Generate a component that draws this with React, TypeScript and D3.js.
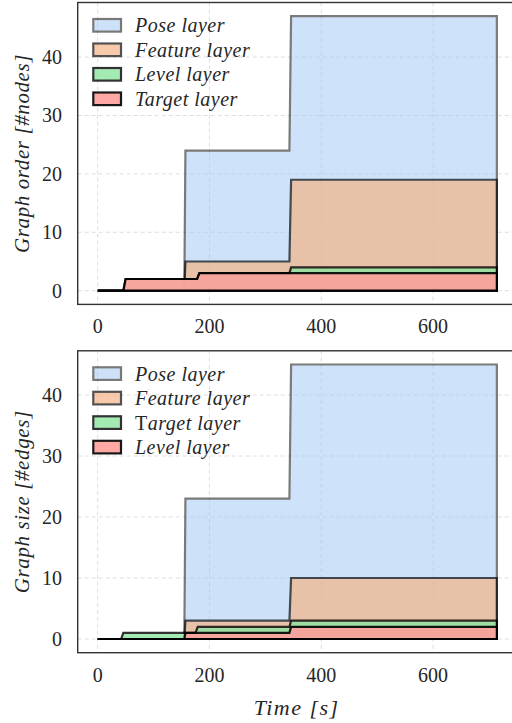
import { useEffect, useRef } from 'react';
import * as d3 from 'd3';

// sample times [s]
const orderTimes = [0, 46, 50, 155, 157, 178, 182, 343, 346, 714];
const sizeTimes = [0, 42, 46, 155, 157, 175, 179, 343, 346, 714];

// Graph order (#nodes), plotted per layer
const orderPose = [0, 0, 0, 0, 24, 24, 24, 24, 47, 47];
const orderFeature = [0, 0, 0, 0, 5, 5, 5, 5, 19, 19];
const orderLevel = [0, 0, 2, 2, 2, 2, 3, 3, 4, 4];
const orderTarget = [0, 0, 2, 2, 2, 2, 3, 3, 3, 3];

// Graph size (#edges), plotted per layer
const sizePose = [0, 0, 0, 0, 23, 23, 23, 23, 45, 45];
const sizeFeature = [0, 0, 0, 0, 3, 3, 3, 3, 10, 10];
const sizeTarget = [0, 0, 1, 1, 1, 1, 2, 2, 3, 3];
const sizeLevel = [0, 0, 0, 0, 1, 1, 1, 1, 2, 2];

const xTicks = [0, 200, 400, 600];
const yTicks = [0, 10, 20, 30, 40];

const colors = ['#a1c9f4', '#f5b284', '#8de5a1', '#ff9f9b'];
const alphas = [0.52, 0.68, 0.8, 0.9];

const panels = [
  {
    times: orderTimes,
    series: [orderPose, orderFeature, orderLevel, orderTarget],
    labels: ['Pose layer', 'Feature layer', 'Level layer', 'Target layer'],
    ylabel: 'Graph order [#nodes]',
    top: 2.5, bottom: 304.4,
  },
  {
    times: sizeTimes,
    series: [sizePose, sizeFeature, sizeTarget, sizeLevel],
    labels: ['Pose layer', 'Feature layer', 'Target layer', 'Level layer'],
    ylabel: 'Graph size [#edges]',
    top: 350.8, bottom: 652.7,
  },
];

const serif = "'Liberation Serif', 'DejaVu Serif', serif";

export default function App() {
  const svgRef = useRef<SVGSVGElement>(null);

  useEffect(() => {
    if (!svgRef.current) return;
    const svg = d3.select(svgRef.current);
    svg.selectAll('*').remove();

    const left = 77.7, right = 516.8;

    panels.forEach((p, pi) => {
      const tMax = d3.max(p.times) as number;
      const yMax = d3.max(p.series.flat()) as number;
      const x = d3.scaleLinear().domain([-0.05 * tMax, 1.05 * tMax]).range([left, right]);
      const y = d3.scaleLinear().domain([-0.05 * yMax, 1.05 * yMax]).range([p.bottom, p.top]);

      const clipId = `clip${pi}`;
      svg.append('clipPath').attr('id', clipId).append('rect')
        .attr('x', left).attr('y', p.top).attr('width', right - left).attr('height', p.bottom - p.top);

      const g = svg.append('g');
      // grid
      xTicks.forEach(v => {
        g.append('line').attr('x1', x(v)).attr('x2', x(v)).attr('y1', p.top).attr('y2', p.bottom)
          .attr('stroke', '#dadada').attr('stroke-width', 0.9).attr('stroke-dasharray', '4,3');
      });
      yTicks.forEach(v => {
        g.append('line').attr('x1', left).attr('x2', right).attr('y1', y(v)).attr('y2', y(v))
          .attr('stroke', '#dadada').attr('stroke-width', 0.9).attr('stroke-dasharray', '4,3');
      });

      // layers, each filled from zero
      const area = d3.area<number>()
        .x((_, i) => x(p.times[i]))
        .y0(y(0))
        .y1(d => y(d));
      const layers = g.append('g').attr('clip-path', `url(#${clipId})`);
      p.series.forEach((s, i) => {
        layers.append('path').datum(s).attr('d', d => area(d) + 'Z')
          .attr('fill', colors[i]).attr('stroke', '#000').attr('stroke-width', 2.2)
          .attr('stroke-linejoin', 'miter').attr('opacity', alphas[i]);
      });

      // frame
      g.append('rect').attr('x', left).attr('y', p.top).attr('width', right - left).attr('height', p.bottom - p.top)
        .attr('fill', 'none').attr('stroke', '#333').attr('stroke-width', 1.4);

      // y ticks
      yTicks.forEach(v => {
        g.append('text').attr('x', 62).attr('y', y(v)).attr('text-anchor', 'end').attr('dominant-baseline', 'central')
          .attr('font-family', serif).attr('font-size', 20).attr('fill', '#262626').text(v);
      });
      // x ticks
      xTicks.forEach(v => {
        g.append('text').attr('x', x(v)).attr('y', p.bottom + 22).attr('text-anchor', 'middle').attr('dominant-baseline', 'central')
          .attr('font-family', serif).attr('font-size', 20).attr('fill', '#262626').text(v);
      });

      // y label
      const cy = (p.top + p.bottom) / 2;
      g.append('text').attr('transform', `translate(22,${cy}) rotate(-90)`).attr('text-anchor', 'middle')
        .attr('dominant-baseline', 'central').attr('font-family', serif).attr('font-style', 'italic')
        .attr('font-size', 21).attr('letter-spacing', 0.6).attr('fill', '#262626').text(p.ylabel);

      // legend
      p.labels.forEach((lab, i) => {
        const ry = p.top + 22.8 + i * 24.5;
        g.append('rect').attr('x', 93.3).attr('y', ry - 6.3).attr('width', 27.7).attr('height', 12.6)
          .attr('fill', colors[i]).attr('stroke', '#000').attr('stroke-width', 2.2).attr('opacity', alphas[i]);
        const t = g.append('text').attr('x', 135).attr('y', ry).attr('dominant-baseline', 'central')
          .attr('font-family', serif).attr('font-style', 'italic').attr('font-size', 20)
          .attr('letter-spacing', 0.5).attr('fill', '#262626');
        if (pi === 1 && lab === 'Target layer') {
          t.append('tspan').attr('font-style', 'normal').text('T');
          t.append('tspan').text('arget layer');
        } else {
          t.text(lab);
        }
      });
    });

    // x label
    svg.append('text').attr('x', 296.7).attr('y', 707).attr('text-anchor', 'middle').attr('dominant-baseline', 'central')
      .attr('font-family', serif).attr('font-style', 'italic').attr('font-size', 22).attr('letter-spacing', 1.5)
      .attr('fill', '#262626').text('Time [s]');
  }, []);

  return (
    <svg ref={svgRef} width={512} height={723} viewBox="0 0 512 723"
      style={{ position: 'absolute', left: 0, top: 0, background: '#fff' }} />
  );
}
